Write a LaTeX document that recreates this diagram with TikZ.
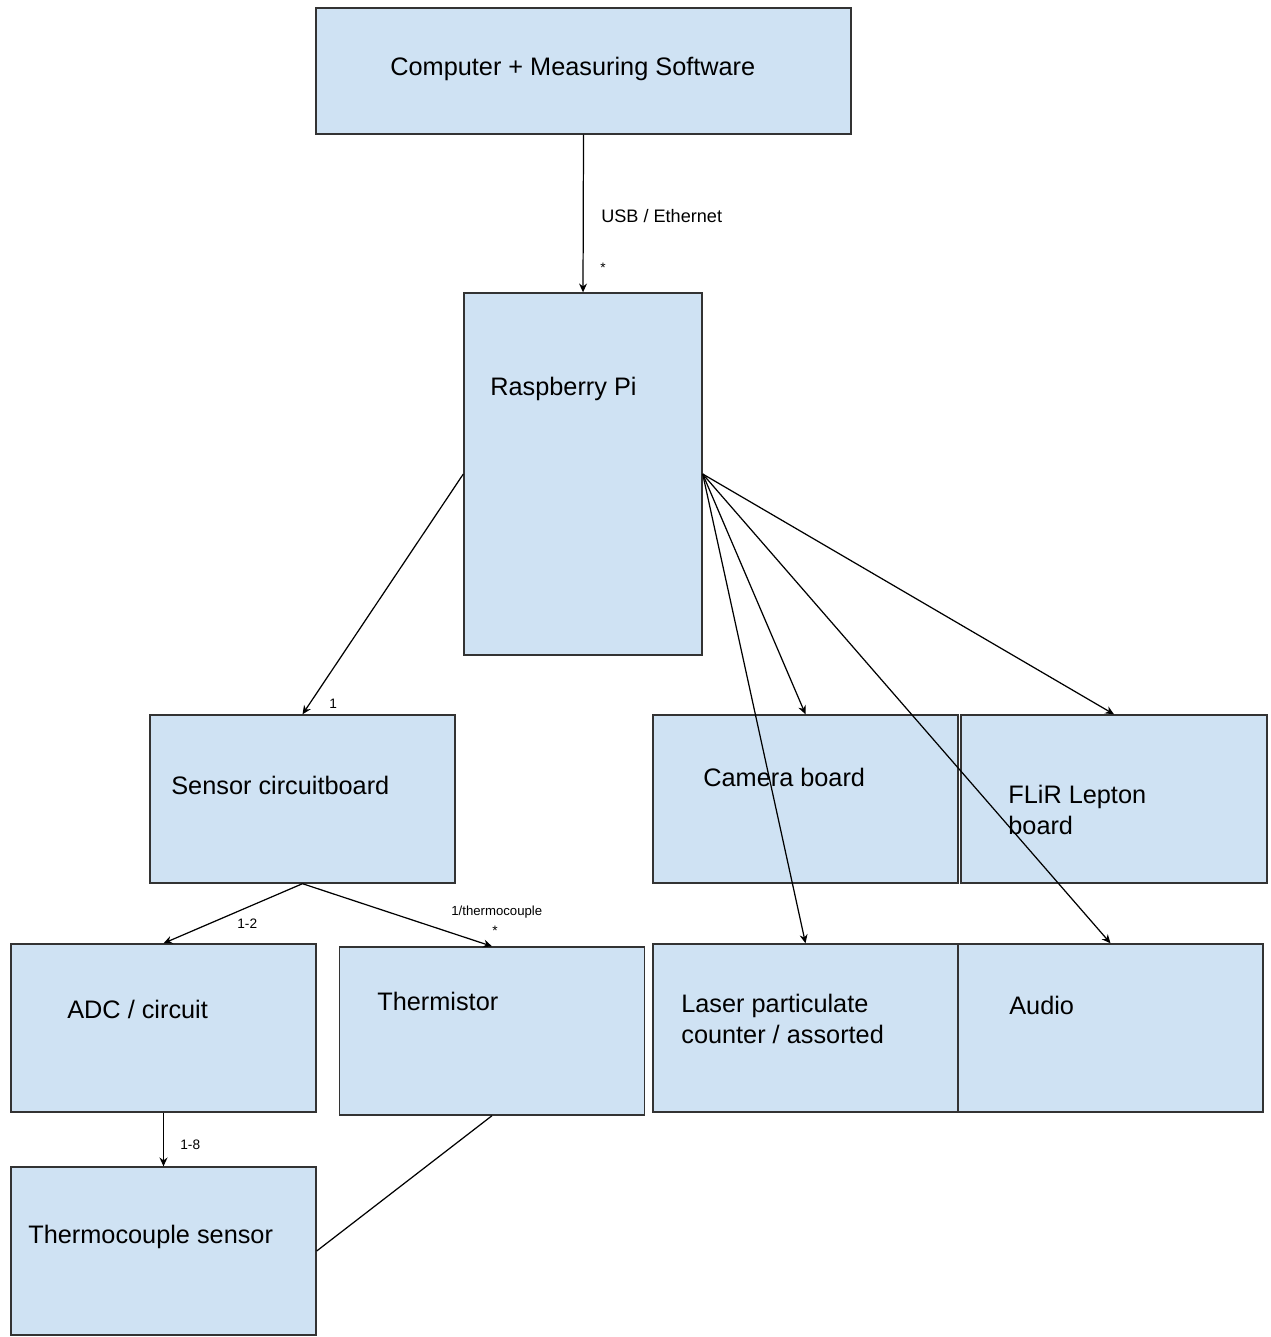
\documentclass[tikz,border=0pt]{standalone}
\usepackage{fontspec}
\setmainfont{Liberation Sans}
\usepackage{xcolor}
\usetikzlibrary{arrows.meta,positioning}
\definecolor{boxblue}{HTML}{CFE2F3}
\definecolor{edgegray}{HTML}{333333}
\tikzset{
  block/.style={draw=edgegray,fill=boxblue,line width=0.8pt,inner sep=0pt},
  wide/.style={minimum width=6.1cm,minimum height=3.36cm},
  link/.style={-{Stealth[length=5pt,width=4.5pt]},line width=0.7pt,black},
  plainlink/.style={line width=0.7pt,black},
  title/.style={anchor=base west,inner sep=0pt,align=left,font=\fontsize{14.4}{17.3}\selectfont},
  tag/.style={anchor=base west,inner sep=0pt,font=\fontsize{7.8}{9}\selectfont},
  bigtag/.style={anchor=base west,inner sep=0pt,font=\fontsize{10.3}{12}\selectfont}
}
\begin{document}
\begin{tikzpicture}[x=0.02cm, y=-0.02cm]
  \useasboundingbox (0,0) rectangle (1270,1337);
  % boxes
  \node[block,minimum width=10.7cm,minimum height=2.52cm] (computer) at (583.5,71) {};
  \node[block,minimum width=4.76cm,minimum height=7.24cm] (pi) at (583,474) {};
  \node[block,wide] (sensor) at (302.5,799) {};
  \node[block,wide] (camera) at (805.5,799) {};
  \node[block,wide,minimum width=6.12cm] (flir) at (1114,799) {};
  \node[block,wide] (adc) at (163.5,1028) {};
  \node[block,wide] (thermistor) at (492,1031) {};
  \node[block,wide] (laser) at (805.5,1028) {};
  \node[block,wide] (audio) at (1110.5,1028) {};
  \node[block,wide] (thermocouple) at (163.5,1251) {};
  % box texts (two-line ones sit on their last line)
  \node[title] (computertext) at (390,76) {Computer + Measuring Software};
  \node[title] (pitext) at (490,396) {Raspberry Pi};
  \node[title] (sensortext) at (171,794) {Sensor circuitboard};
  \node[title] (cameratext) at (703,786) {Camera board};
  \node[title] (flirtext) at (1008,834) {FLiR Lepton\\board};
  \node[title] (adctext) at (67,1018) {ADC / circuit};
  \node[title] (thermistortext) at (377,1010) {Thermistor};
  \node[title] (lasertext) at (681,1043) {Laser particulate\\counter / assorted};
  \node[title] (audiotext) at (1009,1014) {Audio};
  \node[title] (thermocoupletext) at (28,1243) {Thermocouple sensor};
  % connections
  \draw[link] (computer.south) -- (pi.north);
  \draw[link] (pi.west) -- (sensor.north);
  \draw[link] (pi.east) -- (camera.north);
  \draw[link] (pi.east) -- (flir.north);
  \draw[link] (pi.east) -- (laser.north);
  \draw[link] (pi.east) -- (audio.north);
  \draw[link] (sensor.south) -- (adc.north);
  \draw[link] (sensor.south) -- (thermistor.north);
  \draw[link] (adc.south) -- (thermocouple.north);
  \draw[plainlink] (thermistor.south) -- (thermocouple.east);
  % small labels
  \node[bigtag] (usb) at (601,223) {USB / Ethernet};
  \node[tag] (usbstar) at (600,273) {*};
  \node[tag] (one) at (329,708) {1};
  \node[tag] (onetwo) at (237,928) {1-2};
  \node[tag,font=\fontsize{7.5}{9}\selectfont] (perthermo) at (451,915) {1/thermocouple};
  \node[tag] (thermostar) at (492,935) {*};
  \node[tag] (oneeight) at (180,1149) {1-8};
\end{tikzpicture}
\end{document}
